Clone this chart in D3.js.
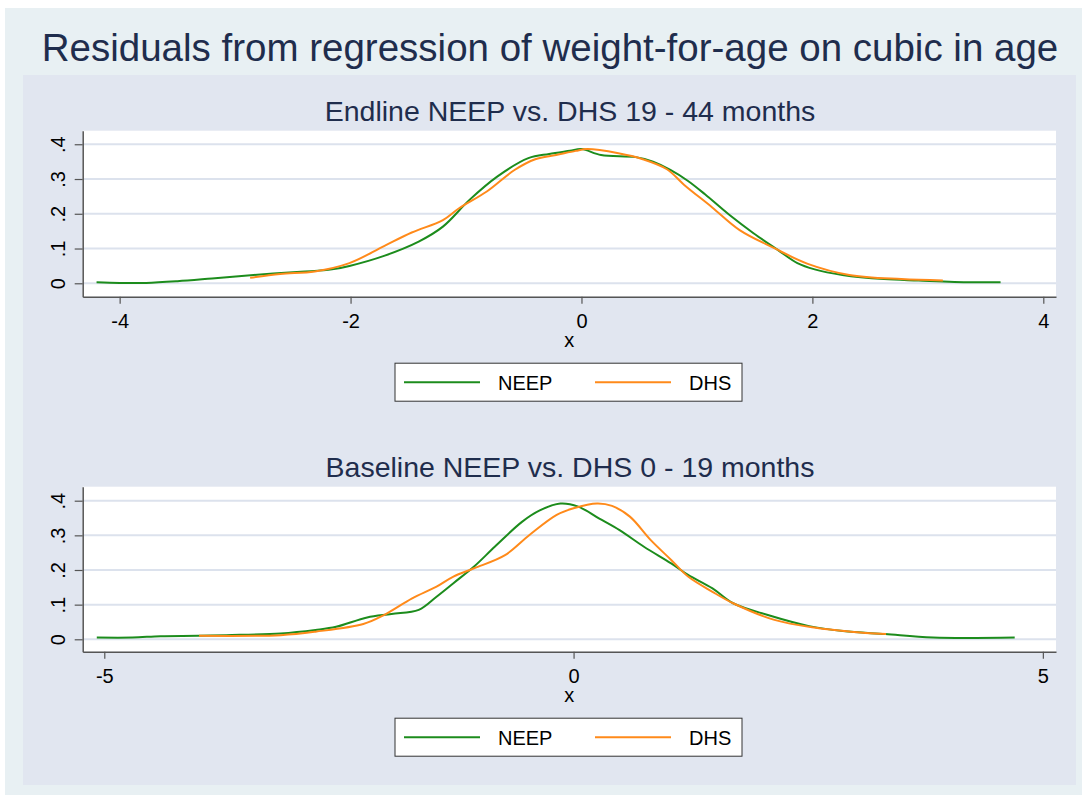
<!DOCTYPE html>
<html>
<head>
<meta charset="utf-8">
<script src="https://cdn.jsdelivr.net/npm/d3@7"></script>
<style>
  body { margin: 0; background: #ffffff; }
  svg { display: block; font-family: "Liberation Sans", Arial, sans-serif; }
</style>
</head>
<body>
<div id="chart"></div>
<script>
// Chart text
const mainTitle = 'Residuals from regression of weight-for-age on cubic in age';
const panelTitles = ['Endline NEEP vs. DHS 19 - 44 months', 'Baseline NEEP vs. DHS 0 - 19 months'];
const seriesNames = ['NEEP', 'DHS'];
const yTicks = [0, 0.1, 0.2, 0.3, 0.4];
const xTicksTop = [-4, -2, 0, 2, 4];
const xTicksBottom = [-5, 0, 5];

// Endline (top) densities
const endNeepX = [-4.2, -4.0, -3.77, -3.5, -3.2, -2.84, -2.43, -2.16, -2.01, -1.71, -1.41, -1.2, -0.97, -0.73, -0.46, -0.28, -0.1, 0.0, 0.17, 0.47, 0.62, 0.77, 0.92, 1.07, 1.28, 1.49, 1.7, 1.87, 2.02, 2.26, 2.62, 2.92, 3.37, 3.63];
const endNeepY = [0.003, 0.001, 0.001, 0.006, 0.014, 0.024, 0.033, 0.040, 0.050, 0.079, 0.120, 0.163, 0.240, 0.307, 0.360, 0.372, 0.381, 0.386, 0.369, 0.363, 0.350, 0.326, 0.295, 0.256, 0.197, 0.144, 0.096, 0.058, 0.040, 0.024, 0.012, 0.008, 0.003, 0.003];
const endDhsX = [-2.87, -2.61, -2.31, -2.01, -1.71, -1.47, -1.2, -1.06, -0.82, -0.58, -0.4, -0.22, -0.05, 0.05, 0.32, 0.53, 0.74, 0.89, 1.13, 1.37, 1.67, 1.96, 2.32, 2.77, 3.13];
const endDhsY = [0.016, 0.027, 0.034, 0.058, 0.107, 0.146, 0.182, 0.216, 0.264, 0.326, 0.357, 0.369, 0.381, 0.386, 0.374, 0.357, 0.328, 0.283, 0.219, 0.153, 0.101, 0.056, 0.024, 0.012, 0.008];

// Baseline (bottom) densities
const baseNeepX = [-5.08, -4.7, -4.4, -4.0, -3.7, -3.12, -2.75, -2.53, -2.2, -1.94, -1.65, -1.46, -1.28, -1.06, -0.84, -0.55, -0.36, -0.14, 0.05, 0.27, 0.49, 0.75, 1.04, 1.22, 1.48, 1.7, 2.07, 2.51, 2.87, 3.32, 3.83, 4.7];
const baseNeepY = [0.005, 0.005, 0.009, 0.010, 0.012, 0.017, 0.027, 0.036, 0.063, 0.073, 0.085, 0.123, 0.162, 0.210, 0.267, 0.339, 0.372, 0.392, 0.383, 0.349, 0.315, 0.267, 0.219, 0.186, 0.147, 0.104, 0.070, 0.038, 0.024, 0.015, 0.005, 0.005];
const baseDhsX = [-3.99, -3.12, -2.75, -2.24, -2.02, -1.72, -1.46, -1.28, -1.06, -0.73, -0.47, -0.18, 0.0, 0.25, 0.41, 0.6, 0.82, 1.04, 1.22, 1.48, 1.7, 2.14, 2.58, 2.95, 3.33];
const baseDhsY = [0.010, 0.012, 0.022, 0.044, 0.070, 0.118, 0.152, 0.181, 0.205, 0.243, 0.301, 0.359, 0.378, 0.392, 0.385, 0.354, 0.287, 0.229, 0.181, 0.137, 0.104, 0.056, 0.033, 0.022, 0.015];

const colors = { neep: '#1c8c1c', dhs: '#ff8a1a', text: '#1f2d4d', grid: '#dce2ed' };

const width = 1082, height = 795;
const svg = d3.select('#chart').append('svg')
  .attr('width', width)
  .attr('height', height);

// Backgrounds
svg.append('rect').attr('x', 5).attr('y', 8).attr('width', 1077).attr('height', 787).attr('fill', '#e8f0f3');
svg.append('rect').attr('x', 23).attr('y', 75).attr('width', 1053).attr('height', 710).attr('fill', '#e1e6f0');

svg.append('text')
  .attr('x', 550).attr('y', 61)
  .attr('text-anchor', 'middle')
  .attr('fill', colors.text)
  .style('font-size', '38.5px')
  .text(mainTitle);

const panels = [
  { title: panelTitles[0], top: 130.7, bottom: 296.7, xDomain: [-4.32, 4.11], yDomain: [-0.0386, 0.439], xTicks: xTicksTop,
    series: [{ x: endNeepX, y: endNeepY, color: colors.neep }, { x: endDhsX, y: endDhsY, color: colors.dhs }] },
  { title: panelTitles[1], top: 486.7, bottom: 651.7, xDomain: [-5.23, 5.14], yDomain: [-0.0358, 0.4404], xTicks: xTicksBottom,
    series: [{ x: baseNeepX, y: baseNeepY, color: colors.neep }, { x: baseDhsX, y: baseDhsY, color: colors.dhs }] }
];

const left = 82.7, right = 1056;

panels.forEach(p => {
  const x = d3.scaleLinear().domain(p.xDomain).range([left, right]);
  const y = d3.scaleLinear().domain(p.yDomain).range([p.bottom, p.top]);

  svg.append('text')
    .attr('x', 570).attr('y', p.top - 9.5)
    .attr('text-anchor', 'middle')
    .attr('fill', colors.text)
    .style('font-size', '28.5px')
    .text(p.title);

  // plot region
  svg.append('rect')
    .attr('x', left).attr('y', p.top)
    .attr('width', right - left).attr('height', p.bottom - p.top)
    .attr('fill', '#ffffff');

  // gridlines
  svg.append('g').selectAll('line')
    .data(yTicks)
    .enter().append('line')
    .attr('x1', left).attr('x2', right)
    .attr('y1', d => y(d)).attr('y2', d => y(d))
    .attr('stroke', colors.grid)
    .attr('stroke-width', 2);

  // curves
  const line = d3.line()
    .x(d => x(d[0]))
    .y(d => y(d[1]))
    .curve(d3.curveCatmullRom.alpha(0.5));

  p.series.forEach(s => {
    svg.append('path')
      .datum(s.x.map((v, i) => [v, s.y[i]]))
      .attr('fill', 'none')
      .attr('stroke', s.color)
      .attr('stroke-width', 2)
      .attr('d', line);
  });

  // X axis (plain hyphen for negatives, like the original)
  const xAxis = svg.append('g')
    .attr('transform', `translate(0,${p.bottom})`)
    .call(d3.axisBottom(x).tickValues(p.xTicks).tickSize(7).tickPadding(10).tickSizeOuter(0).tickFormat(d => String(d)));
  xAxis.select('.domain').attr('stroke', '#555').attr('stroke-width', 1.5);
  xAxis.selectAll('.tick line').attr('stroke', '#555').attr('stroke-width', 1.2);
  xAxis.selectAll('text').attr('fill', '#000').style('font-size', '20px').style('font-family', '"Liberation Sans", Arial, sans-serif');

  // Y axis
  const yAxis = svg.append('g')
    .attr('transform', `translate(${left},0)`)
    .call(d3.axisLeft(y).tickValues(yTicks).tickSize(8).tickSizeOuter(0)
      .tickFormat(d => d === 0 ? '0' : d3.format('.1f')(d).replace(/^0/, '')));
  yAxis.select('.domain').attr('stroke', '#555').attr('stroke-width', 1.5);
  yAxis.selectAll('.tick line').attr('stroke', '#555').attr('stroke-width', 1.2);
  yAxis.selectAll('text')
    .attr('x', 0).attr('y', -18.2).attr('dy', 0)
    .attr('transform', 'rotate(-90)')
    .attr('text-anchor', 'middle')
    .attr('fill', '#000')
    .style('font-size', '20px')
    .style('font-family', '"Liberation Sans", Arial, sans-serif');

  // axis title
  svg.append('text')
    .attr('x', (left + right) / 2).attr('y', p.bottom + 50.5)
    .attr('text-anchor', 'middle')
    .attr('fill', '#000')
    .style('font-size', '20px')
    .text('x');

  // legend
  const ly = p.bottom + 66.5;
  const legend = svg.append('g').attr('transform', `translate(395,${ly})`);
  legend.append('rect')
    .attr('width', 347).attr('height', 38)
    .attr('fill', '#ffffff')
    .attr('stroke', '#333')
    .attr('stroke-width', 1);
  p.series.forEach((s, i) => {
    const ox = i === 0 ? 9 : 200;
    legend.append('line')
      .attr('x1', ox).attr('x2', ox + 76)
      .attr('y1', 19).attr('y2', 19)
      .attr('stroke', s.color)
      .attr('stroke-width', 2);
    legend.append('text')
      .attr('x', ox + 94).attr('y', 27)
      .attr('fill', '#000')
      .style('font-size', '20px')
      .text(seriesNames[i]);
  });
});
</script>
</body>
</html>
